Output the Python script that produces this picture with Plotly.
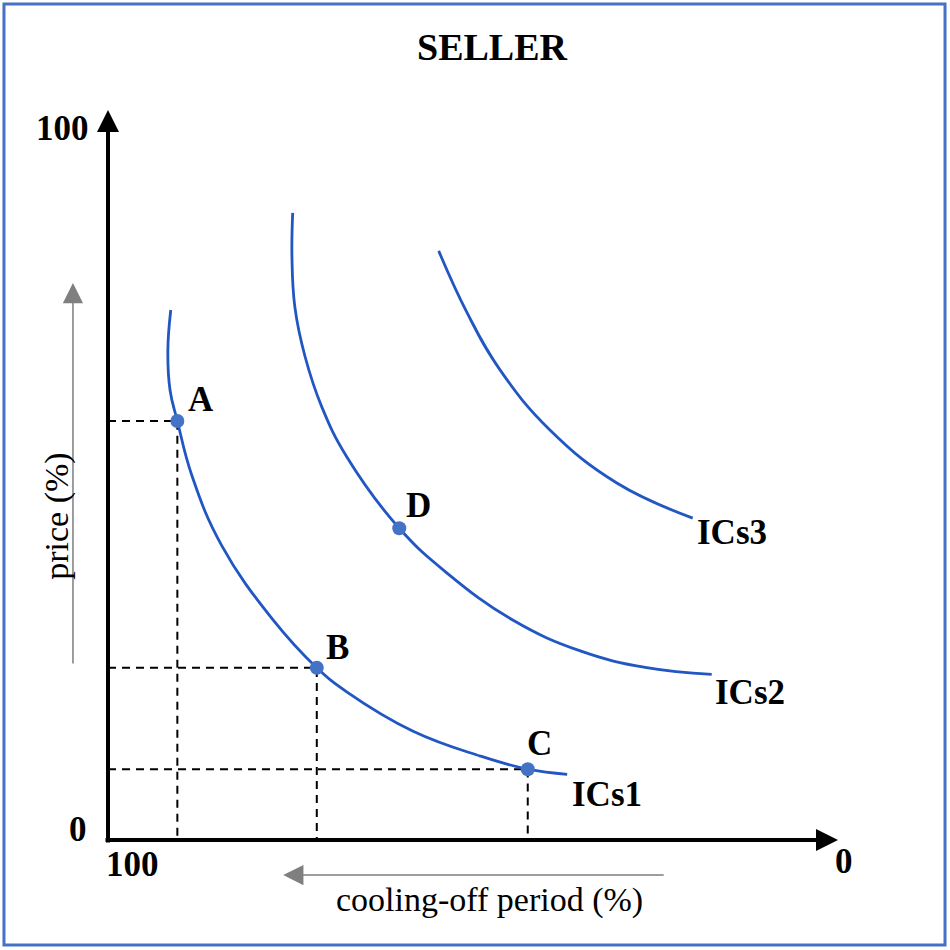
import plotly.graph_objects as go

# ---- data (x: cooling-off period %, shown from 100 at left to 0 at right; y: price %) ----
ics1_x = [91.4, 91.8, 91.5, 90.5, 88.5, 84.4, 77.5, 71.4, 67.3, 58.2, 49.0, 42.5, 37.1]
ics1_y = [72.6, 67.1, 61.6, 57.4, 49.9, 40.3, 30.3, 23.6, 20.3, 14.9, 11.5, 9.7, 9.0]

ics2_x = [74.7, 74.8, 74.4, 73.0, 70.7, 67.3, 60.1, 53.6, 44.5, 35.3, 26.2, 17.3]
ics2_y = [85.9, 79.9, 73.0, 66.2, 59.3, 52.5, 42.7, 36.6, 30.1, 25.9, 23.6, 22.7]

ics3_x = [54.7, 50.8, 46.3, 39.5, 30.3, 19.9]
ics3_y = [80.7, 72.2, 64.4, 56.2, 48.9, 44.1]

curve_names = ["ICs1", "ICs2", "ICs3"]

point_names = ["A", "B", "C", "D"]
point_x = [90.5, 71.4, 42.5, 60.1]
point_y = [57.4, 23.6, 9.7, 42.7]
dashed_points = ["A", "B", "C"]

axis_labels = {"y_top": "100", "y_bottom": "0", "x_left": "100", "x_right": "0"}
title_text = "SELLER"
y_title = "price (%)"
x_title = "cooling-off period (%)"

# ---- style ----
SERIF = "Liberation Serif, Times New Roman, serif"
CURVE_COLOR = "#2157C2"
DOT_COLOR = "#4472C4"
BORDER_COLOR = "#4472C4"
GRAY = "#7F7F7F"

fig = go.Figure()

# dashed guide lines from axes to points
for name, x, y in zip(point_names, point_x, point_y):
    if name in dashed_points:
        fig.add_trace(go.Scatter(
            x=[100, x, x], y=[y, y, 0], mode="lines",
            line=dict(color="black", width=2, dash="8px,6px"),
            hoverinfo="skip", showlegend=False))

# indifference curves
for cx, cy in [(ics1_x, ics1_y), (ics2_x, ics2_y), (ics3_x, ics3_y)]:
    fig.add_trace(go.Scatter(
        x=cx, y=cy, mode="lines",
        line=dict(color=CURVE_COLOR, width=2.8, shape="spline", smoothing=1.2),
        hoverinfo="skip", showlegend=False))

# points
fig.add_trace(go.Scatter(
    x=point_x, y=point_y, mode="markers",
    marker=dict(color=DOT_COLOR, size=14, line=dict(width=0)),
    hoverinfo="skip", showlegend=False, cliponaxis=False))

annotations = []
bold_font = dict(family=SERIF, size=35, color="black")


def paper_text(x, y, text, font, **kw):
    d = dict(x=x, y=y, xref="paper", yref="paper", text=text, showarrow=False,
             xanchor="center", yanchor="middle", font=font)
    d.update(kw)
    return d


# point labels
point_shifts = {"A": (24, 21), "B": (21, 20), "C": (12, 26), "D": (19, 23)}
for name, x, y in zip(point_names, point_x, point_y):
    sx, sy = point_shifts[name]
    annotations.append(dict(x=x, y=y, xref="x", yref="y", text=f"<b>{name}</b>",
                            xanchor="center", yanchor="middle",
                            showarrow=False, xshift=sx, yshift=sy, font=bold_font))

# curve labels at end of each curve
curve_ends = [(ics1_x[-1], ics1_y[-1]), (ics2_x[-1], ics2_y[-1]), (ics3_x[-1], ics3_y[-1])]
curve_shifts = [(40, -20), (38, -18), (39, -14)]
for name, (x, y), (sx, sy) in zip(curve_names, curve_ends, curve_shifts):
    annotations.append(dict(x=x, y=y, xref="x", yref="y", text=f"<b>{name}</b>",
                            xanchor="center", yanchor="middle",
                            showarrow=False, xshift=sx, yshift=sy, font=bold_font))

# main axes with arrowheads (paper coords)
annotations.append(dict(x=0, y=1.0, xref="paper", yref="paper", text="", showarrow=True,
                        ax=0, ay=734, axref="pixel", ayref="pixel",
                        arrowhead=2, arrowsize=1.1, arrowwidth=4, arrowcolor="black", standoff=0))
annotations.append(dict(x=1.0, y=0, xref="paper", yref="paper", text="", showarrow=True,
                        ax=-734, ay=0, axref="pixel", ayref="pixel",
                        arrowhead=2, arrowsize=1.1, arrowwidth=4, arrowcolor="black", standoff=0))

# axis end labels
annotations += [
    paper_text(-0.063, 0.975, f"<b>{axis_labels['y_top']}</b>", bold_font),
    paper_text(-0.041, 0.015, f"<b>{axis_labels['y_bottom']}</b>", bold_font),
    paper_text(0.033, -0.033, f"<b>{axis_labels['x_left']}</b>", bold_font),
    paper_text(1.008, -0.029, f"<b>{axis_labels['x_right']}</b>", bold_font),
]

# title
annotations.append(paper_text(0.527, 1.086, f"<b>{title_text}</b>",
                              dict(family=SERIF, size=38, color="black")))

# gray direction arrows + axis titles
annotations.append(dict(x=-0.048, y=0.763, xref="paper", yref="paper", text="", showarrow=True,
                        ax=0, ay=382, axref="pixel", ayref="pixel",
                        arrowhead=2, arrowsize=2.7, arrowwidth=1.5, arrowcolor=GRAY, standoff=0))
annotations.append(dict(x=0.240, y=-0.048, xref="paper", yref="paper", text="", showarrow=True,
                        ax=382, ay=0, axref="pixel", ayref="pixel",
                        arrowhead=2, arrowsize=2.7, arrowwidth=1.5, arrowcolor=GRAY, standoff=0))
annotations.append(paper_text(-0.07, 0.444, y_title,
                              dict(family=SERIF, size=34, color="black"), textangle=-90))
annotations.append(paper_text(0.522, -0.082, x_title,
                              dict(family=SERIF, size=34, color="black")))

fig.update_layout(
    width=950, height=950,
    margin=dict(l=108, r=112, t=110, b=110),
    paper_bgcolor="white", plot_bgcolor="white",
    xaxis=dict(range=[100, 0], visible=False, fixedrange=True),
    yaxis=dict(range=[0, 100], visible=False, fixedrange=True),
    annotations=annotations,
    shapes=[dict(type="rect", xref="paper", yref="paper",
                 x0=-0.1425, x1=1.1466, y0=-0.1438, y1=1.1452,
                 line=dict(color=BORDER_COLOR, width=3), fillcolor="rgba(0,0,0,0)", layer="below")],
    showlegend=False,
)

fig.write_html("out.html", config={"displayModeBar": False},
               post_script="document.body.style.margin='0';document.body.style.overflow='hidden';")
